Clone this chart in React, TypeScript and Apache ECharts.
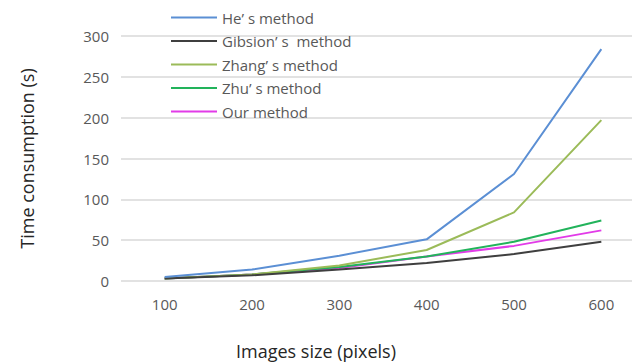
import React, { useEffect, useRef } from "react";
import * as echarts from "echarts";

const categories = ["100", "200", "300", "400", "500", "600"];
const seriesNames = ["He’ s method", "Gibsion’ s  method", "Zhang’ s method", "Zhu’ s method", "Our method"];
const heValues = [5, 14, 31, 51, 131, 284];
const gibsionValues = [3, 7, 14, 22, 33, 48];
const zhangValues = [3, 8, 19, 38, 84, 197];
const zhuValues = [3, 8, 17, 30, 48, 74];
const ourValues = [3, 8, 16, 30, 43, 62];
const colors = ["#5B8FD4", "#3F3F3F", "#9BBB59", "#22B35B", "#E23BE8"];

export default function App() {
  const ref = useRef<HTMLDivElement>(null);
  useEffect(() => {
    const chart = echarts.init(ref.current!, undefined, { renderer: "svg" });
    const data = [heValues, gibsionValues, zhangValues, zhuValues, ourValues];
    chart.setOption({
      animation: false,
      textStyle: { fontFamily: "Open Sans" },
      title: {
        text: "Images size (pixels)",
        left: "center",
        top: 337,
        textStyle: { color: "#262626", fontSize: 18, fontWeight: "normal", fontFamily: "Open Sans" },
      },
      legend: {
        orient: "vertical",
        left: 166,
        top: 5,
        itemWidth: 46,
        itemHeight: 2,
        itemGap: 8.5,
        textStyle: { fontSize: 15, color: "#595959", fontFamily: "Open Sans" },
        data: seriesNames.map((n) => ({ name: n, icon: "rect" })),
      },
      grid: { left: 121, top: 36, width: 524, height: 245, outerBoundsMode: "none", containLabel: false },
      xAxis: {
        type: "category",
        data: categories,
        boundaryGap: true,
        axisLine: { show: false },
        axisTick: { show: false },
        axisLabel: { color: "#595959", fontSize: 15, margin: 15 },
      },
      yAxis: {
        type: "value",
        min: 0,
        max: 300,
        interval: 50,
        axisLine: { show: false },
        axisTick: { show: false },
        splitLine: { lineStyle: { color: "#D9D9D9", width: 1.5 } },
        axisLabel: { color: "#595959", fontSize: 15, margin: 12 },
        name: "Time consumption (s)",
        nameLocation: "middle",
        nameGap: 85,
        nameTextStyle: { color: "#262626", fontSize: 18 },
      },
      series: seriesNames.map((n, i) => ({
        name: n,
        type: "line",
        data: data[i],
        symbol: "none",
        lineStyle: { color: colors[i], width: 2 },
        itemStyle: { color: colors[i] },
        z: 5 - i,
      })),
    });
    return () => chart.dispose();
  }, []);
  return (
    <div
      ref={ref}
      style={{ position: "fixed", left: 0, top: 0, width: 632, height: 362, background: "#fff" }}
    />
  );
}
